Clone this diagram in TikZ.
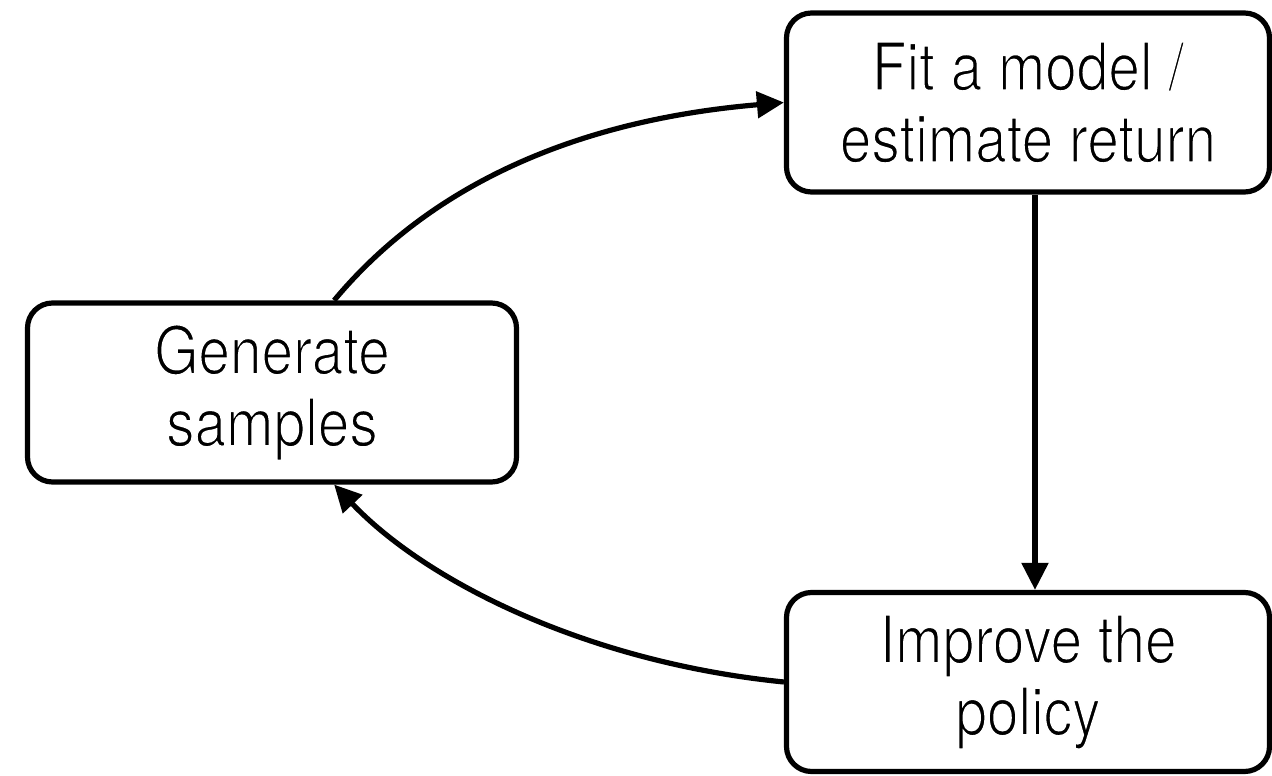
\documentclass[tikz,border=0pt]{standalone}
\usepackage{fontspec}
\setmainfont{TeX Gyre Heros}[FakeStretch=0.86]
\usetikzlibrary{arrows.meta}
% thin the glyph strokes with a white outline (light look)
\newcommand{\lighttext}[1]{\special{pdf:code q 2 Tr 1.5 w 1 1 1 RG}#1\special{pdf:code Q}}
\begin{document}
\begin{tikzpicture}[x=1pt,y=1pt,
  stagebox/.style={draw=black, line width=5.2pt, rounded corners=25pt,
    align=center, inner sep=0pt, font=\fontsize{66}{72}\selectfont},
  flow/.style={line width=5.2pt, -{Triangle[length=27pt,width=26pt]}}]
  \useasboundingbox (0,0) rectangle (1272,776);
  % the three stages of the loop
  \node[stagebox, minimum width=489pt, minimum height=179pt] (gen) at (272,383.5) {\lighttext{Generate\\samples}};
  \node[stagebox, minimum width=483pt, minimum height=179pt] (fit) at (1028,673.5) {\lighttext{Fit a model /\\estimate return}};
  \node[stagebox, minimum width=483pt, minimum height=179pt] (imp) at (1028,94) {\lighttext{Improve the\\policy}};
  % connectors
  \draw[flow] (gen.56) .. controls +(100,120) and +(-200,-17) .. (fit.west);
  \draw[flow] ([xshift=7pt]fit.south) -- ([xshift=7pt]imp.north);
  \draw[flow] (imp.west) .. controls +(-200,20) and +(90,-95) .. (gen.-56);
\end{tikzpicture}
\end{document}
